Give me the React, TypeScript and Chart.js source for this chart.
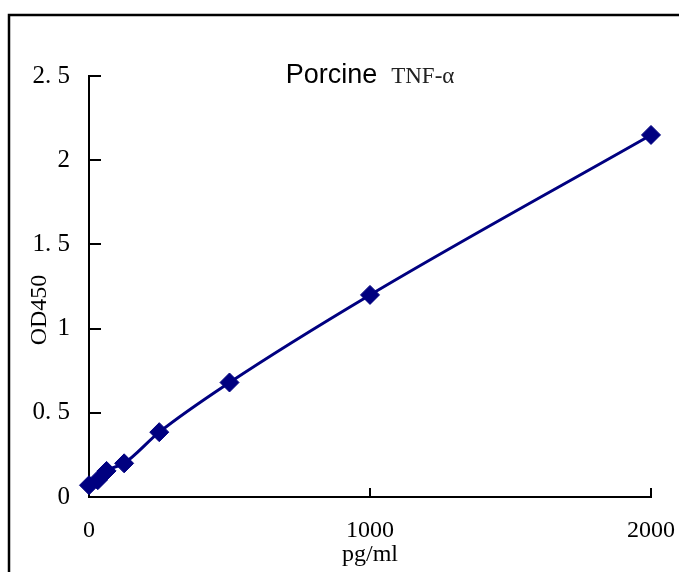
import React, { useEffect, useRef } from "react";
import { Chart, registerables } from "chart.js";

Chart.register(...registerables);

const concentrations = [0, 31.25, 62.5, 125, 250, 500, 1000, 2000];
const od450 = [0.07, 0.1, 0.155, 0.2, 0.385, 0.68, 1.2, 2.15];
const xTicks = [0, 1000, 2000];
const xTickLabels = ["0", "1000", "2000"];
const yTicks = [0, 0.5, 1, 1.5, 2, 2.5];
const yTickLabels = ["0", "0. 5", "1", "1. 5", "2", "2. 5"];
const titleMain = "Porcine";
const titleSub = "TNF-α";
const xTitle = "pg/ml";
const yTitle = "OD450";

const NAVY = "#000080";
const SERIF = "'Liberation Serif', 'DejaVu Serif', serif";
const SANS = "'Liberation Sans', Arial, sans-serif";

const decorPlugin = {
  id: "decor",
  beforeDatasetsDraw(chart: any) {
    const ctx = chart.ctx;
    const xs = chart.scales.x;
    const ys = chart.scales.y;
    const { left, bottom } = chart.chartArea;
    ctx.save();
    ctx.strokeStyle = "#000";
    ctx.lineWidth = 2;
    yTicks.forEach((v) => {
      const py = Math.round(ys.getPixelForValue(v));
      ctx.beginPath();
      ctx.moveTo(left, py);
      ctx.lineTo(left + 12, py);
      ctx.stroke();
    });
    xTicks.forEach((v) => {
      const px = Math.round(xs.getPixelForValue(v));
      ctx.beginPath();
      ctx.moveTo(px, bottom);
      ctx.lineTo(px, bottom - 9);
      ctx.stroke();
    });
    ctx.restore();
  },
  afterDraw(chart: any) {
    const ctx = chart.ctx;
    const { left, right } = chart.chartArea;
    ctx.save();
    // outer frame
    ctx.strokeStyle = "#000";
    ctx.lineWidth = 2.5;
    ctx.beginPath();
    ctx.moveTo(9, chart.height + 5);
    ctx.lineTo(9, 15);
    ctx.lineTo(chart.width + 5, 15);
    ctx.stroke();
    // y axis title
    ctx.save();
    ctx.translate(40, 310);
    ctx.rotate(-Math.PI / 2);
    ctx.font = `24px ${SERIF}`;
    ctx.fillStyle = "#000";
    ctx.textAlign = "center";
    ctx.textBaseline = "middle";
    ctx.fillText(yTitle, 0, 0);
    ctx.restore();
    // title
    const cx = (left + right) / 2;
    const baseY = 83;
    ctx.textBaseline = "alphabetic";
    ctx.fillStyle = "#000";
    ctx.font = `27px ${SANS}`;
    const w1 = ctx.measureText(titleMain).width;
    ctx.font = `23px ${SERIF}`;
    const w2 = ctx.measureText(titleSub).width;
    const gap = 14;
    const total = w1 + gap + w2;
    const startX = cx - total / 2;
    ctx.textAlign = "left";
    ctx.font = `27px ${SANS}`;
    ctx.fillText(titleMain, startX, baseY);
    ctx.font = `23px ${SERIF}`;
    ctx.fillStyle = "#222";
    ctx.fillText(titleSub, startX + w1 + gap, baseY);
    ctx.restore();
  },
};

export default function App() {
  const ref = useRef<HTMLCanvasElement>(null);

  useEffect(() => {
    if (!ref.current) return;
    const chart = new Chart(ref.current, {
      type: "scatter",
      data: {
        datasets: [
          {
            data: concentrations.map((c, i) => ({ x: c, y: od450[i] })),
            showLine: true,
            borderColor: NAVY,
            backgroundColor: NAVY,
            borderWidth: 3,
            cubicInterpolationMode: "monotone",
            pointStyle: "rectRot",
            pointRadius: 9.5,
            pointBorderWidth: 1,
            pointBackgroundColor: NAVY,
            pointBorderColor: NAVY,
            clip: false,
          } as any,
        ],
      },
      options: {
        responsive: false,
        animation: false,
        devicePixelRatio: 1,
        layout: { padding: { top: 76, right: 28, left: 0, bottom: 0 } },
        plugins: {
          legend: { display: false },
          title: { display: false },
          tooltip: { enabled: false },
        },
        scales: {
          x: {
            type: "linear",
            min: 0,
            max: 2000,
            afterBuildTicks: (scale: any) => {
              scale.ticks = xTicks.map((v) => ({ value: v }));
            },
            afterFit: (scale: any) => {
              scale.height = 75;
              scale.paddingLeft = 0;
              scale.paddingRight = 0;
            },
            grid: { display: false, drawTicks: false },
            border: { display: true, color: "#000", width: 2 },
            ticks: {
              color: "#000",
              font: { family: SERIF, size: 24 },
              padding: 19,
              maxRotation: 0,
              autoSkip: false,
              callback: (v: any) => {
                const i = xTicks.indexOf(Number(v));
                return i >= 0 ? xTickLabels[i] : "";
              },
            },
            title: {
              display: true,
              text: xTitle,
              color: "#000",
              font: { family: SERIF, size: 24 },
              padding: { top: 0, bottom: 3 },
            },
          },
          y: {
            type: "linear",
            min: 0,
            max: 2.5,
            afterBuildTicks: (scale: any) => {
              scale.ticks = yTicks.map((v) => ({ value: v }));
            },
            afterFit: (scale: any) => {
              scale.width = 89;
              scale.paddingTop = 0;
              scale.paddingBottom = 0;
            },
            grid: { display: false, drawTicks: false },
            border: { display: true, color: "#000", width: 2 },
            ticks: {
              color: "#000",
              font: { family: SERIF, size: 25 },
              padding: 19,
              autoSkip: false,
              callback: (v: any) => {
                const i = yTicks.indexOf(Number(v));
                return i >= 0 ? yTickLabels[i] : "";
              },
            },
            title: { display: false },
          },
        },
      },
      plugins: [decorPlugin],
    });
    return () => chart.destroy();
  }, []);

  return (
    <div style={{ position: "fixed", left: 0, top: 0, width: 679, height: 572, background: "#fff" }}>
      <canvas ref={ref} width={679} height={572} style={{ display: "block" }} />
    </div>
  );
}
